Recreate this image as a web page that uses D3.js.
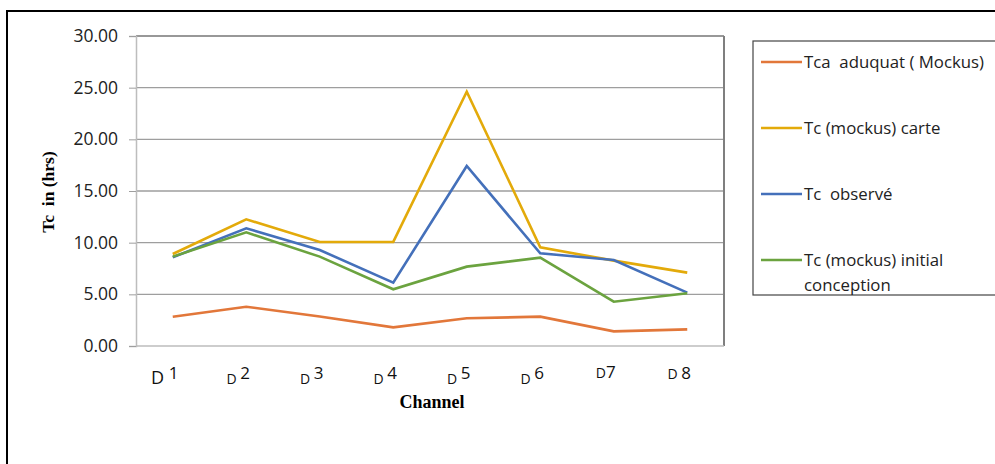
<!DOCTYPE html>
<html>
<head>
<meta charset="utf-8">
<script src="https://cdn.jsdelivr.net/npm/d3@7"></script>
<style>
  html, body { margin: 0; padding: 0; background: #fff; }
  svg { display: block; }
</style>
</head>
<body>
<svg id="chart" width="995" height="464"></svg>
<script>
// Time of concentration per channel
const channels = ["1", "2", "3", "4", "5", "6", "7", "8"];
const tcaAduquat = [2.83, 3.80, 2.85, 1.80, 2.68, 2.84, 1.42, 1.61];
const tcCarte = [8.90, 12.26, 10.07, 10.07, 24.60, 9.55, 8.26, 7.10];
const tcObserve = [8.58, 11.39, 9.29, 6.13, 17.42, 8.97, 8.32, 5.16];
const tcInitial = [8.65, 11.00, 8.65, 5.49, 7.68, 8.55, 4.29, 5.10];
const yTicks = [0, 5, 10, 15, 20, 25, 30];

const series = [
  { name: "Tca  aduquat ( Mockus)", values: tcaAduquat, color: "#E2773A" },
  { name: "Tc (mockus) carte", values: tcCarte, color: "#E3AA0A" },
  { name: "Tc  observé", values: tcObserve, color: "#4470BA" },
  { name: ["Tc (mockus) initial", "conception"], values: tcInitial, color: "#6BA33F" }
];

const svg = d3.select("#chart");
const uiFont = "'Open Sans', 'Noto Sans', sans-serif";
const serifFont = "'Liberation Serif', 'Times New Roman', serif";

// outer frame
svg.append("path")
  .attr("d", "M7,470 L7,11 L1000,11")
  .attr("fill", "none").attr("stroke", "#000").attr("stroke-width", 2);

const plot = { left: 136, top: 36, right: 724, bottom: 346 };

const x = d3.scaleBand().domain(channels).range([plot.left, plot.right]);
const y = d3.scaleLinear().domain([0, 30]).range([plot.bottom, plot.top]);

// horizontal gridlines
svg.append("g")
  .selectAll("line")
  .data(yTicks.filter(t => t > 0 && t < 30))
  .join("line")
  .attr("x1", plot.left).attr("x2", plot.right)
  .attr("y1", d => y(d)).attr("y2", d => y(d))
  .attr("stroke", "#9e9e9e").attr("stroke-width", 1.4);

// plot area border
svg.append("line")
  .attr("x1", plot.left).attr("x2", plot.right)
  .attr("y1", plot.top).attr("y2", plot.top)
  .attr("stroke", "#333").attr("stroke-width", 1.2);
svg.append("line")
  .attr("x1", plot.right).attr("x2", plot.right)
  .attr("y1", plot.top).attr("y2", plot.bottom)
  .attr("stroke", "#7f7f7f").attr("stroke-width", 2);
svg.append("line")
  .attr("x1", plot.left).attr("x2", plot.right)
  .attr("y1", plot.bottom).attr("y2", plot.bottom)
  .attr("stroke", "#bdbdbd").attr("stroke-width", 1.5);

// y axis
const yAxis = svg.append("g")
  .attr("transform", `translate(${plot.left},0)`)
  .call(d3.axisLeft(y).tickValues(yTicks).tickFormat(d3.format(".2f")).tickSize(7).tickPadding(11));
yAxis.select(".domain").attr("stroke", "#bdbdbd").attr("stroke-width", 1.5);
yAxis.selectAll(".tick line").attr("stroke", "#9e9e9e");
yAxis.selectAll(".tick text")
  .attr("font-family", uiFont).attr("font-size", 17.5).attr("fill", "#222");

// x labels: "D" with a raised channel number
const xLab = svg.append("g").selectAll("text")
  .data(channels)
  .join("text")
  .attr("x", d => x(d) + x.bandwidth() / 2 - 8)
  .attr("y", 384)
  .attr("text-anchor", "middle")
  .attr("font-family", uiFont).attr("fill", "#111")
  .attr("xml:space", "preserve");
xLab.append("tspan")
  .attr("font-size", (d, i) => i === 0 ? 18 : 14)
  .attr("dy", (d, i) => i === 6 ? -6 : (i === 7 ? -5 : 0))
  .text((d, i) => i === 6 ? "D" : "D ");
xLab.append("tspan")
  .attr("font-size", 17)
  .attr("dy", (d, i) => i >= 6 ? 0 : -5)
  .text(d => d);

// axis titles
svg.append("text")
  .attr("x", 432).attr("y", 408)
  .attr("text-anchor", "middle")
  .attr("font-family", serifFont).attr("font-weight", "bold").attr("font-size", 18)
  .text("Channel");
svg.append("text")
  .attr("transform", "translate(54,192) rotate(-90)")
  .attr("text-anchor", "middle")
  .attr("font-family", serifFont).attr("font-weight", "bold").attr("font-size", 17.5)
  .attr("xml:space", "preserve")
  .text("Tc  in (hrs)");

// series lines
const line = d3.line()
  .x((d, i) => x(channels[i]) + x.bandwidth() / 2)
  .y(d => y(d));
svg.append("g")
  .selectAll("path")
  .data(series)
  .join("path")
  .attr("d", d => line(d.values))
  .attr("fill", "none")
  .attr("stroke", d => d.color)
  .attr("stroke-width", 2.6)
  .attr("stroke-linejoin", "miter");

// legend
svg.append("rect")
  .attr("x", 753).attr("y", 41).attr("width", 260).attr("height", 254)
  .attr("fill", "#fff").attr("stroke", "#444").attr("stroke-width", 1.2);
const legendY = [62, 128, 194, 260];
const lg = svg.append("g").selectAll("g")
  .data(series)
  .join("g")
  .attr("transform", (d, i) => `translate(0,${legendY[i]})`);
lg.append("line")
  .attr("x1", 761).attr("x2", 802).attr("y1", 0).attr("y2", 0)
  .attr("stroke", d => d.color).attr("stroke-width", 2.6);
lg.each(function(d) {
  const lines = Array.isArray(d.name) ? d.name : [d.name];
  const t = d3.select(this).append("text")
    .attr("font-family", uiFont).attr("font-size", 16.8).attr("fill", "#222")
    .attr("xml:space", "preserve");
  lines.forEach((s, k) => {
    t.append("tspan").attr("x", 804).attr("y", 6 + k * 25).text(s);
  });
});
</script>
</body>
</html>
